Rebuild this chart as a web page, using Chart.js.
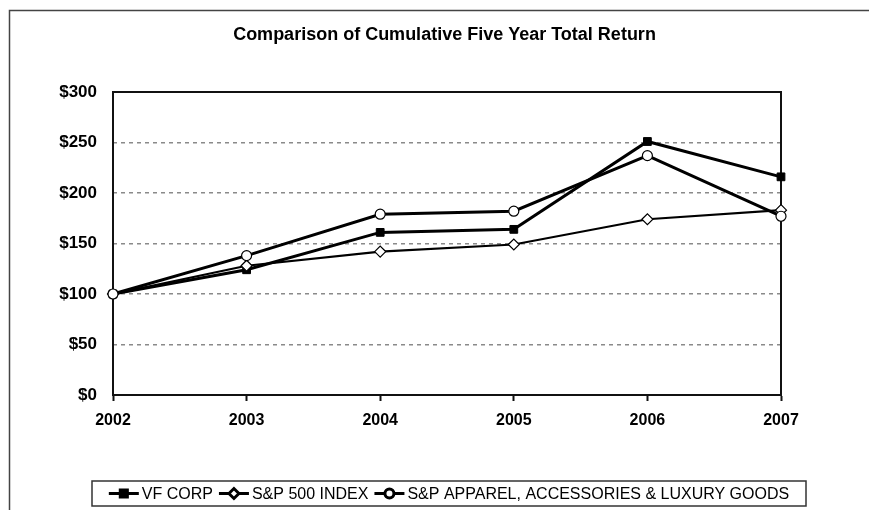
<!DOCTYPE html>
<html>
<head>
<meta charset="utf-8">
<title>Comparison of Cumulative Five Year Total Return</title>
<script src="https://cdn.jsdelivr.net/npm/chart.js@4.4.1/dist/chart.umd.min.js"></script>
<style>
  html, body { margin: 0; padding: 0; background: #fff; }
</style>
</head>
<body>
<canvas id="chart" width="869" height="510"></canvas>
<script>
// data
const years = ['2002', '2003', '2004', '2005', '2006', '2007'];
const vfCorp = [100, 124, 161, 164, 251, 216];
const sp500 = [100, 128, 142, 149, 174, 183];
const apparel = [100, 138, 179, 182, 237, 177];
const seriesNames = ['VF CORP', 'S&P 500 INDEX', 'S&P APPAREL, ACCESSORIES & LUXURY GOODS'];
const yTicks = [0, 50, 100, 150, 200, 250, 300];

const FONT = '"Liberation Sans", Arial, sans-serif';

// outer frame + border of the plot area (left/top/right)
const framePlugin = {
  id: 'frame',
  beforeDraw(chart) {
    const ctx = chart.ctx;
    ctx.save();
    ctx.strokeStyle = '#444';
    ctx.lineWidth = 1.5;
    ctx.beginPath();
    ctx.moveTo(9.5, 510);
    ctx.lineTo(9.5, 10.5);
    ctx.lineTo(869, 10.5);
    ctx.stroke();
    ctx.restore();
  },
  beforeDatasetsDraw(chart) {
    const a = chart.chartArea;
    const ctx = chart.ctx;
    ctx.save();
    ctx.strokeStyle = '#111';
    ctx.lineWidth = 2;
    ctx.setLineDash([]);
    ctx.beginPath();
    ctx.moveTo(a.left, a.bottom);
    ctx.lineTo(a.left, a.top);
    ctx.lineTo(a.right, a.top);
    ctx.lineTo(a.right, a.bottom);
    ctx.stroke();
    ctx.restore();
  }
};

// boxed legend at the bottom, line sample with marker in the middle
const boxLegend = {
  id: 'boxLegend',
  afterDraw(chart) {
    const ctx = chart.ctx;
    const boxL = 92, boxR = 806, boxT = 481, boxB = 506;
    ctx.save();
    ctx.fillStyle = '#fff';
    ctx.fillRect(boxL, boxT, boxR - boxL, boxB - boxT);
    ctx.strokeStyle = '#333';
    ctx.lineWidth = 1.5;
    ctx.strokeRect(boxL, boxT, boxR - boxL, boxB - boxT);

    ctx.font = '16px ' + FONT;
    ctx.textBaseline = 'middle';
    const sampleW = 30, gapAfter = 3, gapItem = 6;
    const items = chart.data.datasets.map(ds => ({ ds, w: sampleW + gapAfter + ctx.measureText(ds.label).width }));
    const total = items.reduce((s, it) => s + it.w, 0) + gapItem * (items.length - 1);
    let x = (boxL + boxR) / 2 - total / 2;
    const y = (boxT + boxB) / 2;
    items.forEach(it => {
      const ds = it.ds;
      ctx.strokeStyle = '#000';
      ctx.lineWidth = 3;
      ctx.beginPath();
      ctx.moveTo(x, y);
      ctx.lineTo(x + sampleW, y);
      ctx.stroke();
      ctx.fillStyle = ds.pointBackgroundColor;
      ctx.strokeStyle = '#000';
      Chart.helpers.drawPoint(ctx, {
        pointStyle: ds.pointStyle, radius: ds.pointRadius - 0.5, borderWidth: 1.2, rotation: 0
      }, x + sampleW / 2, y);
      ctx.fillStyle = '#000';
      ctx.fillText(ds.label, x + sampleW + gapAfter, y + 1);
      x += it.w + gapItem;
    });
    ctx.restore();
  }
};

new Chart(document.getElementById('chart'), {
  type: 'line',
  data: {
    labels: years,
    datasets: [
      {
        label: seriesNames[0], data: vfCorp, order: 3,
        borderColor: '#000', borderWidth: 3,
        pointStyle: 'rect', pointRadius: 5.5,
        pointBackgroundColor: '#000', pointBorderColor: '#000', pointBorderWidth: 1
      },
      {
        label: seriesNames[1], data: sp500, order: 2,
        borderColor: '#000', borderWidth: 2.2,
        pointStyle: 'rectRot', pointRadius: 5.5,
        pointBackgroundColor: '#fff', pointBorderColor: '#000', pointBorderWidth: 1.2
      },
      {
        label: seriesNames[2], data: apparel, order: 1,
        borderColor: '#000', borderWidth: 3,
        pointStyle: 'circle', pointRadius: 5,
        pointBackgroundColor: '#fff', pointBorderColor: '#000', pointBorderWidth: 1.2
      }
    ]
  },
  options: {
    responsive: false,
    animation: false,
    layout: { padding: { left: 20, right: 0, top: 0, bottom: 0 } },
    scales: {
      x: {
        offset: false,
        afterFit(scale) { scale.height = 115; },
        grid: { drawOnChartArea: false, color: '#111', tickLength: 6, tickWidth: 2 },
        border: { color: '#111', width: 2 },
        ticks: { color: '#000', font: { family: FONT, size: 16, weight: 'bold' }, padding: 10, maxRotation: 0 }
      },
      y: {
        min: yTicks[0], max: yTicks[yTicks.length - 1],
        afterFit(scale) { scale.width = 93; },
        afterBuildTicks(scale) { scale.ticks = yTicks.map(v => ({ value: v })); },
        grid: {
          drawTicks: false,
          color: ctx => (ctx.tick && ctx.tick.value > 0 && ctx.tick.value < 300) ? '#8a8a8a' : 'rgba(0,0,0,0)',
          lineWidth: 1.5
        },
        border: { display: false, dash: [4, 4] },
        ticks: {
          color: '#000', padding: 16,
          font: { family: FONT, size: 17, weight: 'bold' },
          callback: v => '$' + v
        }
      },
      // empty right-hand axis that only reserves the space right of the plot
      yRight: {
        position: 'right',
        afterFit(scale) { scale.width = 88; },
        grid: { display: false },
        border: { display: false },
        ticks: { display: false }
      }
    },
    plugins: {
      legend: { display: false },
      tooltip: { enabled: false },
      title: {
        display: true,
        text: 'Comparison of Cumulative Five Year Total Return',
        color: '#000',
        font: { family: FONT, size: 18, weight: 'bold' },
        padding: { top: 24, bottom: 46.4 }
      }
    }
  },
  plugins: [framePlugin, boxLegend]
});
</script>
</body>
</html>
